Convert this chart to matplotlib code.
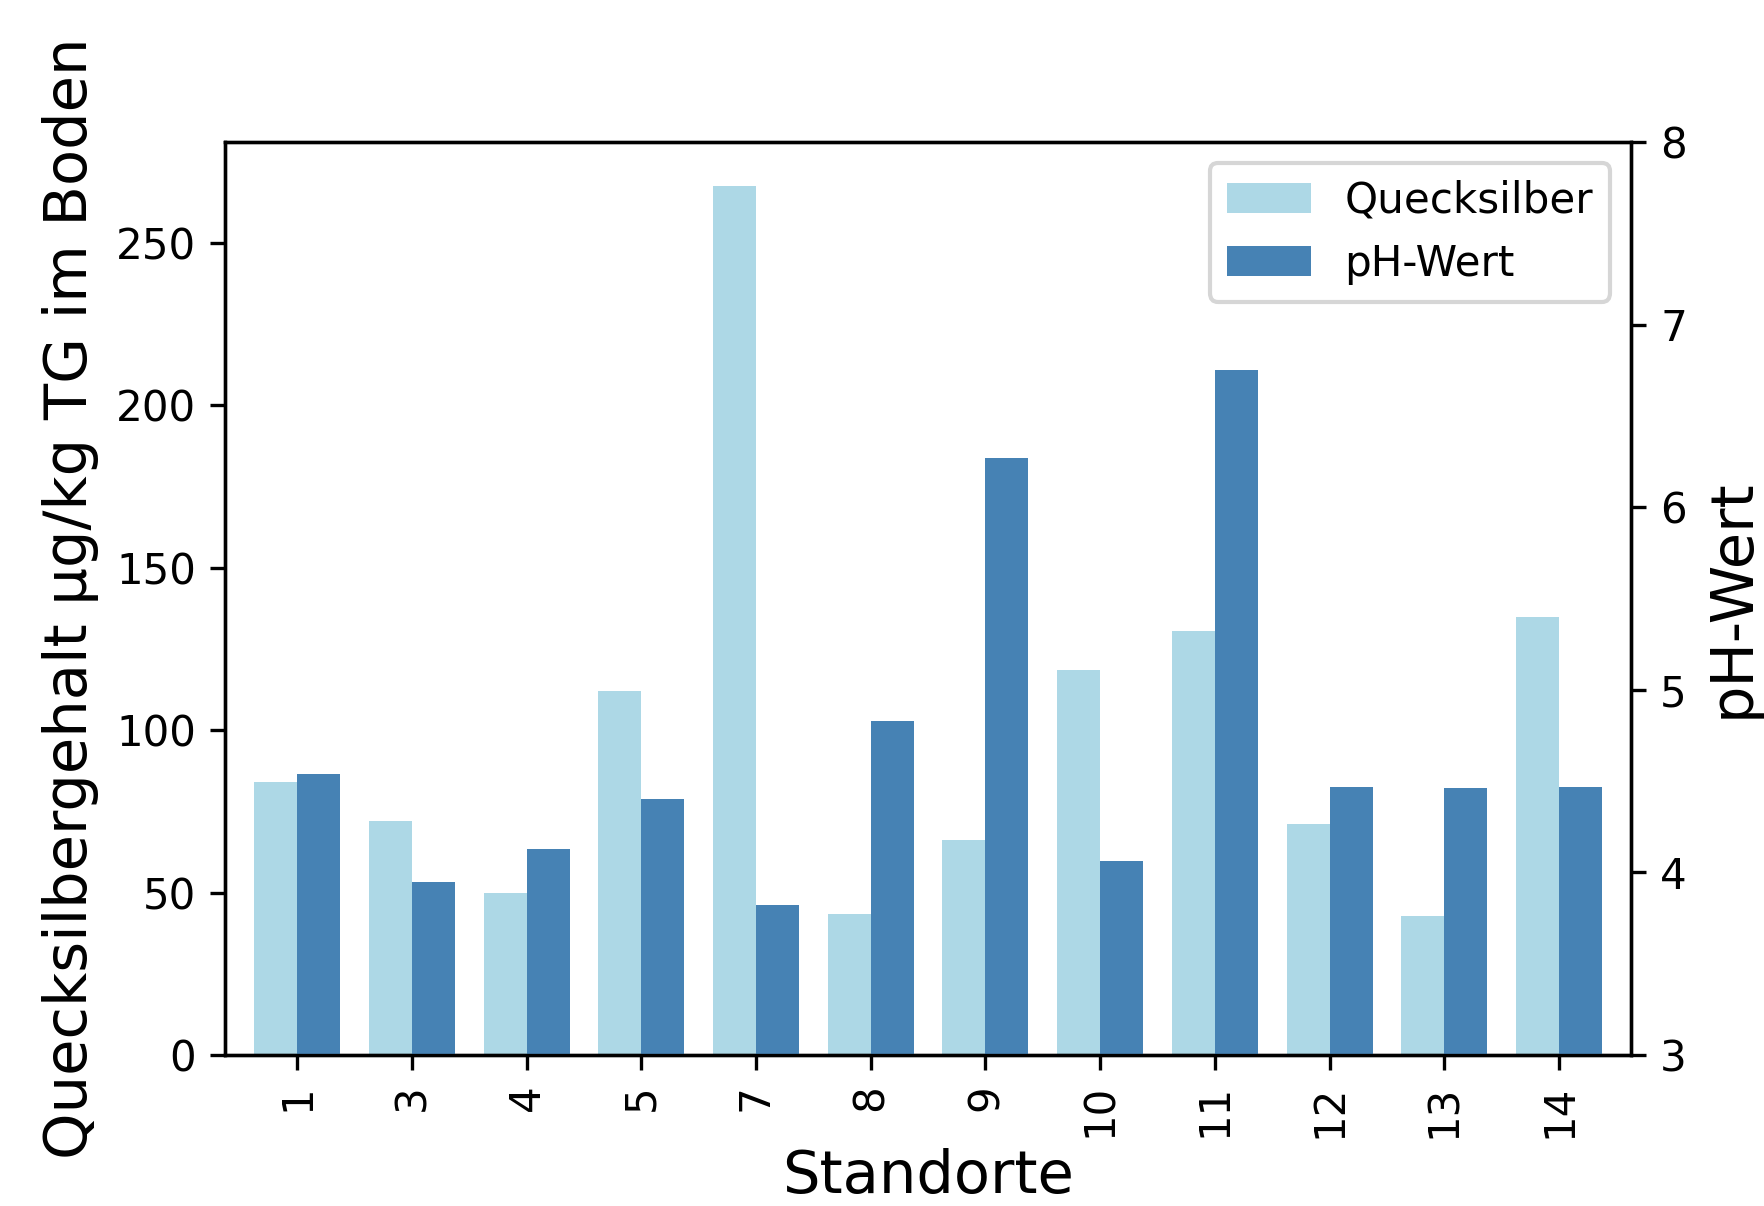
import matplotlib
matplotlib.use("Agg")
import matplotlib.pyplot as plt
import numpy as np

# Standorte and measured values
standorte = ["1", "3", "4", "5", "7", "8", "9", "10", "11", "12", "13", "14"]
quecksilber = [84, 72, 50, 112, 267.3, 43.5, 66.3, 118.5, 130.5, 71.1, 42.7, 134.7]
ph_wert = [4.54, 3.95, 4.13, 4.40, 3.82, 4.83, 6.27, 4.06, 6.75, 4.47, 4.46, 4.47]

x = np.arange(len(standorte))
width = 0.375

fig = plt.figure(figsize=(5.8801, 4.0201), dpi=300)
ax1 = fig.add_axes([0.1276, 0.1252, 0.797, 0.7571])
ax2 = ax1.twinx()

b1 = ax1.bar(x - width / 2, quecksilber, width, color="lightblue", label="Quecksilber")
b2 = ax2.bar(x + width / 2, ph_wert, width, color="steelblue", label="pH-Wert")

ax1.set_xlim(-0.628, len(standorte) - 1 + 0.628)
ax1.set_ylim(0, 281)
ax2.set_ylim(3, 8)

ax1.set_xticks(x)
ax1.set_xticklabels(standorte, rotation=90, fontsize=10.1)
ax1.tick_params(axis="y", labelsize=10.1)
ax2.tick_params(axis="y", labelsize=10.1)

ax1.set_xlabel("Standorte", fontsize=14.2, labelpad=2.5)
ax1.set_ylabel("Quecksilbergehalt µg/kg TG im Boden", fontsize=14.2)
ax2.set_ylabel("pH-Wert", fontsize=14.2)

ax2.legend([b1, b2], ["Quecksilber", "pH-Wert"], loc="upper right", fontsize=10.1)

fig.savefig("out.png", dpi=300)
